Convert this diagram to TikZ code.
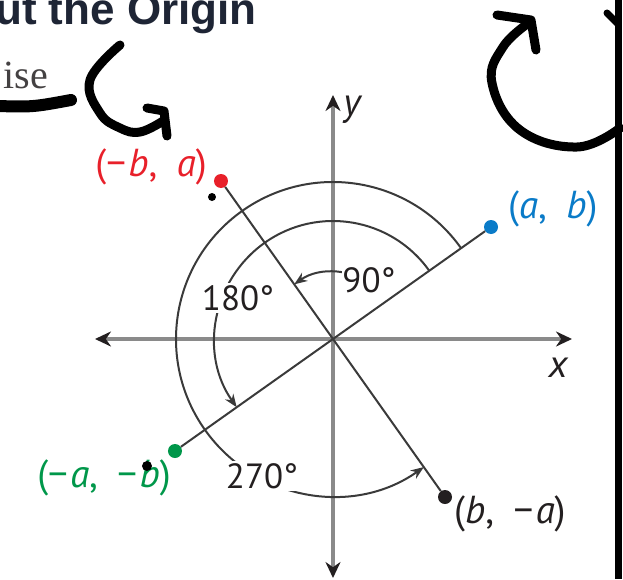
\documentclass[tikz,border=0pt]{standalone}
\usepackage{fontspec}
\setmainfont{PT Sans}
\newfontfamily\notefont{Liberation Serif}
\newfontfamily\headfont{Liberation Sans}
\usetikzlibrary{arrows.meta,positioning}
\definecolor{ink}{HTML}{231F20}
\definecolor{axisgray}{HTML}{8A8A8A}
\definecolor{linegray}{HTML}{3A3A3A}
\definecolor{ptred}{HTML}{E8202A}
\definecolor{ptblue}{HTML}{0A7BC8}
\definecolor{ptgreen}{HTML}{00974A}
\definecolor{headink}{HTML}{1E2535}
\newcommand{\mn}{−\hspace{0.06em}}
\newcommand{\cm}{,\hspace{0.5em}}
\tikzset{
  dot/.style={circle, inner sep=0pt, minimum size=14pt},
  coordlbl/.style={font=\fontsize{39}{42}\selectfont, inner sep=1pt},
  anglbl/.style={font=\fontsize{35}{38}\selectfont, fill=white, inner sep=2pt, text=ink},
  arcline/.style={line width=2pt, linegray, -{Stealth[length=13pt,width=10pt]}},
  marker/.style={line width=9pt, line cap=round, line join=round},
  axis/.style={line width=4pt, axisgray, {Stealth[color=ink,length=16pt,width=15pt]}-{Stealth[color=ink,length=16pt,width=15pt]}},
}
\begin{document}
\begin{tikzpicture}[x=1pt,y=1pt]
  \useasboundingbox (-333,-240) rectangle (290,339);
  \pgfmathsetmacro{\tilt}{atan(112/158)}
  \coordinate (O) at (0,0);
  % axes
  \draw[axis] (-238,0) -- (239,0);
  \draw[axis] (0,-239) -- (0,244);
  \node[coordlbl, text=ink] (ylbl) at (19,229) {\itshape y};
  \node[coordlbl, text=ink] (xlbl) at (225,-29) {\itshape x};
  % the four points
  \node[dot, fill=ptblue] (ab) at (158,112) {};
  \node[dot, fill=ptred] (nba) at (-112,158) {};
  \node[dot, fill=ptgreen] (nanb) at (-158,-112) {};
  \node[dot, fill=ink] (bna) at (112,-158) {};
  \draw[line width=2pt, linegray] (nanb) -- (ab);
  \draw[line width=2pt, linegray] (nba) -- (bna);
  % turning arcs
  \draw[arcline] (\tilt+14:67) arc[start angle=\tilt+14, end angle=\tilt+90, radius=67];
  \draw[arcline] (\tilt:118) arc[start angle=\tilt, end angle=\tilt+180, radius=118];
  \draw[arcline] (\tilt:157) arc[start angle=\tilt, end angle=\tilt+270, radius=157];
  \node[anglbl, inner sep=0.5pt] (a90) at (36,59) {90°};
  \node[anglbl] (a180) at (-95,41) {180°};
  \node[anglbl] (a270) at (-71,-137) {270°};
  % labels
  \node[coordlbl, text=ptblue, anchor=west] (ablbl) at (174,130) {(\textit{a}\cm\textit{b})};
  \node[coordlbl, text=ptred, anchor=east] (nbalbl) at (-125,172) {(\mn\textit{b}\cm\textit{a})};
  \node[coordlbl, text=ptgreen, anchor=east] (nanblbl) at (-161,-139) {(\mn\textit{a}\cm\mn\textit{b})};
  \node[coordlbl, text=ink, anchor=west] (bnalbl) at (120,-175) {(\textit{b}\cm\mn\textit{a})};
  % page text round the figure
  \node[font=\headfont\fontsize{44}{48}\selectfont\bfseries, text=headink, anchor=base west, inner sep=0pt] (head) at (-338,314) {ut the Origin};
  \node[font=\notefont\fontsize{40}{44}\selectfont, text=ink!85, anchor=base east, inner sep=0pt] (ise) at (-285,251) {ise};
  % pen strokes
  \draw[marker, line width=12pt] (-336,233) .. controls (-300,232) .. (-262,239);
  \draw[marker] plot[smooth, tension=0.7] coordinates {(-213,294) (-243,259) (-233,226) (-213,211) (-193,207) (-170,218)};
  \draw[marker] (-186,231) -- (-169,228) -- (-166,203);
  \draw[marker] plot[smooth, tension=0.7] coordinates {(287,211) (244,192) (187,209) (159,256) (170,292) (197,317)};
  \draw[marker] (164,324) -- (198,319) -- (203,289);
  \draw[marker, line width=7pt] (274,326) -- (285,315);
  \draw[line width=7pt] (285.5,339) -- (285.5,-240);
  \fill (-121,142) circle[radius=4];
  \fill (-186,-127) circle[radius=5];
\end{tikzpicture}
\end{document}
